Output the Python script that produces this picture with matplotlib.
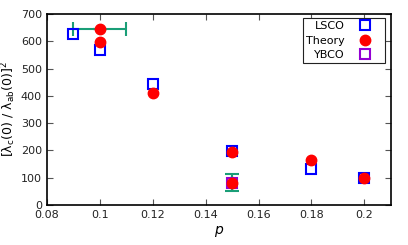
import matplotlib
matplotlib.use("Agg")
import matplotlib.pyplot as plt

plt.rcParams['mathtext.default'] = 'regular'
plt.rcParams['font.family'] = ['DejaVu Sans']

lsco_p = [0.09, 0.10, 0.12, 0.15, 0.18, 0.20]
lsco_v = [626, 567, 442, 197, 133, 100]
theory_p = [0.10, 0.10, 0.12, 0.15, 0.15, 0.18, 0.20]
theory_v = [646, 597, 410, 195, 80, 165, 100]
ybco_p = [0.15]
ybco_v = [80]
err_p = [0.10, 0.15]
err_v = [646, 82]
err_x = [0.01, 0.0]
err_y = [0, 30]

fig = plt.figure(figsize=(4.08, 2.45), dpi=100)
ax = fig.add_axes([0.115, 0.163, 0.843, 0.78])

ax.errorbar(err_p, err_v, xerr=err_x, yerr=err_y, fmt='+', color='#1a9e77',
            capsize=5, elinewidth=1.5, capthick=1.5, ms=7, mew=1.5, zorder=1)
ax.plot(lsco_p, lsco_v, 's', mfc='none', mec='blue', mew=1.5, ms=7.5, label='LSCO', zorder=2)
ax.plot(ybco_p, ybco_v, 's', mfc='none', mec='#9400d3', mew=1.5, ms=7.5, label='YBCO', zorder=2)
ax.plot(theory_p, theory_v, 'o', color='red', ms=7.5, label='Theory', zorder=3)

ax.set_xlim(0.08, 0.21)
ax.set_ylim(0, 700)
ax.set_xticks([0.08, 0.1, 0.12, 0.14, 0.16, 0.18, 0.2])
ax.set_xticklabels(['0.08', '0.1', '0.12', '0.14', '0.16', '0.18', '0.2'])
ax.set_yticks(range(0, 701, 100))
ax.tick_params(direction='in', top=True, right=True, labelsize=8, length=4,
               color='#555555', labelcolor='#222222')
for s in ax.spines.values():
    s.set_linewidth(1.2)

ax.set_xlabel('p', fontsize=10, style='italic', labelpad=2)
ax.set_ylabel(r'$[\lambda_c(0)\ /\ \lambda_{ab}(0)]^2$', fontsize=9, labelpad=2)

h, l = ax.get_legend_handles_labels()
order = [0, 2, 1]
leg = ax.legend([h[i] for i in order], [l[i] for i in order], loc='upper right',
                bbox_to_anchor=(0.983, 0.98),
                markerfirst=False, fontsize=8, frameon=True, fancybox=False,
                edgecolor='#222222', framealpha=1, borderaxespad=0.0,
                handletextpad=0.3, labelspacing=0.4, handlelength=3.0,
                borderpad=0.3)
leg.get_frame().set_linewidth(0.8)
for col in leg._legend_handle_box.get_children():
    col.align = 'right'

fig.savefig('out.png', dpi=100)
